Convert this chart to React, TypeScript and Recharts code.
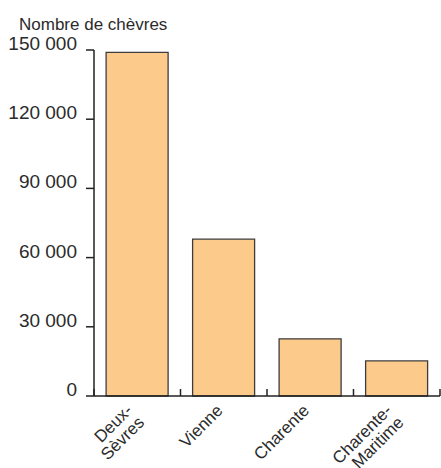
import { BarChart, Bar, XAxis, YAxis } from "recharts";

const regions = ["Deux-Sèvres", "Vienne", "Charente", "Charente-Maritime"];
const goats = [149000, 68000, 24800, 15200];
const yTicks = [0, 30000, 60000, 90000, 120000, 150000];

const data = regions.map((region, i) => ({ region, goats: goats[i] }));

const font = "'Liberation Sans', Arial, sans-serif";
const ink = "#2b2b2b";

const fmt = (v: number) => String(v).replace(/\B(?=(\d{3})+(?!\d))/g, " ");

function splitName(name: string) {
  const i = name.indexOf("-");
  return i < 0 ? [name] : [name.slice(0, i + 1), name.slice(i + 1)];
}

function YTick({ x, y, payload }: any) {
  return (
    <text x={x - 7} y={y} textAnchor="end" fontSize={19} fontFamily={font} fill={ink}>
      {fmt(payload.value)}
    </text>
  );
}

function XTick({ x, y, payload, index }: any) {
  const half = payload.offset ?? 0;
  const lines = splitName(payload.value);
  return (
    <g>
      <line x1={x - half} y1={y} x2={x - half} y2={y - 7} stroke="#222" strokeWidth={1.5} />
      {index === regions.length - 1 && (
        <line x1={x + half} y1={y} x2={x + half} y2={y - 7} stroke="#222" strokeWidth={1.5} />
      )}
      {lines.map((line, i) => {
        const bx = lines.length > 1 ? x - 4 + 12 * i : x;
        const by = y + 15.5 + 12 * i;
        return (
          <text
            key={i}
            x={bx}
            y={by}
            textAnchor="end"
            fontSize={17}
            fontFamily={font}
            fill={ink}
            transform={`rotate(-45 ${bx} ${by})`}
          >
            {line}
          </text>
        );
      })}
    </g>
  );
}

export default function App() {
  return (
    <div style={{ position: "absolute", left: 0, top: 0, width: 441, height: 468, background: "#fff" }}>
      <div
        style={{
          position: "absolute",
          left: 19,
          top: 16,
          fontFamily: font,
          fontSize: 17,
          lineHeight: "17px",
          color: ink,
          whiteSpace: "nowrap",
        }}
      >
        Nombre de chèvres
      </div>
      <BarChart
        width={441}
        height={468}
        data={data}
        margin={{ top: 50, right: 1, bottom: 0, left: 0 }}
        barCategoryGap="14%"
      >
        <YAxis
          width={94}
          domain={[0, 150000]}
          ticks={yTicks}
          interval={0}
          tickSize={8}
          tick={<YTick />}
          axisLine={{ stroke: "#222", strokeWidth: 1.5 }}
          tickLine={{ stroke: "#222", strokeWidth: 1.5 }}
        />
        <XAxis
          dataKey="region"
          height={72}
          interval={0}
          tickSize={0}
          tickMargin={0}
          tickLine={false}
          tick={<XTick />}
          axisLine={{ stroke: "#222", strokeWidth: 1.5 }}
        />
        <Bar dataKey="goats" fill="#FCCB8B" stroke="#3d3d3d" strokeWidth={1.3} isAnimationActive={false} />
      </BarChart>
    </div>
  );
}
